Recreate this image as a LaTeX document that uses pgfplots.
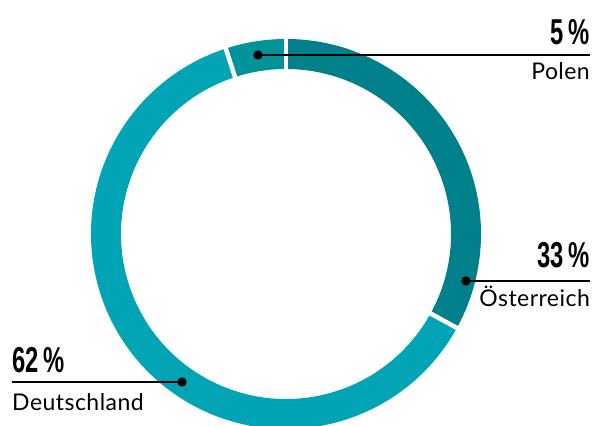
\documentclass[border=0pt]{standalone}
\usepackage{graphicx}
\usepackage{pgfplots}
\usepackage{pgfplotstable}
\usepackage{fontspec}
\pgfplotsset{compat=1.18}
\setmainfont{Lato}[LetterSpace=2]
\newfontfamily\numfont{Liberation Sans}

\definecolor{oest}{RGB}{0,128,138}
\definecolor{deut}{RGB}{0,164,181}
\definecolor{pol}{RGB}{0,147,153}

% shares in percent, clockwise from 12 o'clock
\pgfplotstableread{
label value
Oesterreich 33
Deutschland 62
Polen 5
}\shares

% leader lines: dot on ring, end of line (image y flipped: 425-y)
\pgfplotstableread{
x y
258 370
590 370
}\polline
\pgfplotstableread{
x y
466 144
590 144
}\oesline
\pgfplotstableread{
x y
182 43
12 43
}\deuline

\pgfplotstablegetelem{0}{value}\of\shares \let\va\pgfplotsretval
\pgfplotstablegetelem{1}{value}\of\shares \let\vb\pgfplotsretval
\pgfplotstablegetelem{2}{value}\of\shares \let\vc\pgfplotsretval
\pgfmathsetmacro{\aA}{90}
\pgfmathsetmacro{\aB}{90-3.6*\va}
\pgfmathsetmacro{\aC}{\aB-3.6*\vb}
\pgfmathsetmacro{\aD}{\aC-3.6*\vc}
\def\cx{286}\def\cy{191}
\def\Ro{195pt}\def\Ri{165pt}

\newcommand{\pct}[1]{\scalebox{0.66}[1]{\numfont\bfseries\fontsize{36}{36}\selectfont #1}}
\newcommand{\lbl}[1]{{\fontsize{23}{23}\selectfont #1}}

\begin{document}
\begin{tikzpicture}
\begin{axis}[
    x=1pt, y=1pt,
    xmin=0, xmax=593, ymin=0, ymax=425,
    hide axis,
    clip=true,
]
% ring segments
\fill[oest] (axis cs:\cx,\cy) ++(\aA:\Ro) arc[start angle=\aA,end angle=\aB,radius=\Ro]
   -- ++(\aB:-30pt) arc[start angle=\aB,end angle=\aA,radius=\Ri] -- cycle;
\fill[deut] (axis cs:\cx,\cy) ++(\aB:\Ro) arc[start angle=\aB,end angle=\aC,radius=\Ro]
   -- ++(\aC:-30pt) arc[start angle=\aC,end angle=\aB,radius=\Ri] -- cycle;
\fill[pol] (axis cs:\cx,\cy) ++(\aC:\Ro) arc[start angle=\aC,end angle=\aD,radius=\Ro]
   -- ++(\aD:-30pt) arc[start angle=\aD,end angle=\aC,radius=\Ri] -- cycle;
% white gaps
\draw[white, line width=4.5pt] (axis cs:\cx,\cy) ++(\aA:160pt) -- ++(\aA:40pt);
\draw[white, line width=4.5pt] (axis cs:\cx,\cy) ++(\aB:160pt) -- ++(\aB:40pt);
\draw[white, line width=4.5pt] (axis cs:\cx,\cy) ++(\aC:160pt) -- ++(\aC:40pt);
% leader lines with dots
\addplot[black, line width=2pt, mark=*, mark size=3.6pt, mark repeat=2] table {\polline};
\addplot[black, line width=2pt, mark=*, mark size=3.6pt, mark repeat=2] table {\oesline};
\addplot[black, line width=2pt, mark=*, mark size=3.6pt, mark repeat=2] table {\deuline};
% labels
\node[anchor=south east, inner sep=0pt] at (axis cs:590,380) {\pct{5\hspace{0.22em}\%}};
\node[anchor=base east, inner sep=0pt] at (axis cs:590,345) {\lbl{Polen}};
\node[anchor=south east, inner sep=0pt] at (axis cs:590,157) {\pct{33\hspace{0.22em}\%}};
\node[anchor=base east, inner sep=0pt] at (axis cs:590,118) {\lbl{Österreich}};
\node[anchor=south west, inner sep=0pt] at (axis cs:12,52) {\pct{62\hspace{0.22em}\%}};
\node[anchor=base west, inner sep=0pt] at (axis cs:12,15) {\lbl{Deutschland}};
\end{axis}
\pgfresetboundingbox
\path (0,0) rectangle (593pt,425pt);
\end{tikzpicture}
\end{document}
